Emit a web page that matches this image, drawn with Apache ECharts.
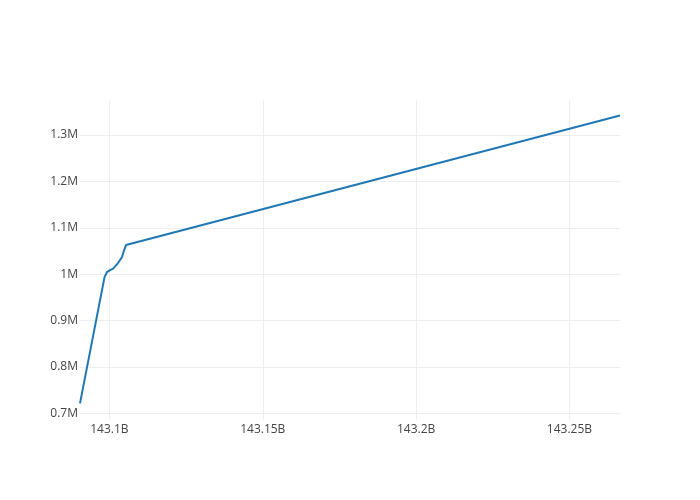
<!DOCTYPE html>
<html>
<head>
<meta charset="utf-8">
<script src="https://cdn.jsdelivr.net/npm/echarts@6/dist/echarts.min.js"></script>
<style>
html,body{margin:0;padding:0;background:#fff;}
#chart{width:700px;height:500px;}
</style>
</head>
<body>
<div id="chart"></div>
<script>
// Data
var xValues = [143.0904e9, 143.0984e9, 143.0992e9, 143.1002e9, 143.1012e9, 143.1028e9, 143.1041e9, 143.1048e9, 143.1054e9, 143.2665e9];
var yValues = [721600, 993800, 1004600, 1008900, 1012100, 1024000, 1036900, 1052000, 1062800, 1341900];

var xRange = [143.0904e9, 143.2665e9];
var yRange = [685700, 1375500];

var points = xValues.map(function (x, i) { return [x, yValues[i]]; });

var chart = echarts.init(document.getElementById('chart'), null, {renderer: 'canvas'});
var font = '"Open Sans", "Noto Sans", sans-serif';
chart.setOption({
  animation: false,
  backgroundColor: '#fff',
  grid: {left: 80, right: 80, top: 100, bottom: 80},
  xAxis: {
    type: 'value',
    min: xRange[0],
    max: xRange[1],
    splitNumber: 4,
    axisLine: {show: false},
    axisTick: {show: false},
    axisLabel: {
      showMinLabel: false, showMaxLabel: false,
      margin: 4,
      color: '#444', fontSize: 12, fontFamily: font,
      formatter: function (v) { return parseFloat((v / 1e9).toFixed(3)) + 'B'; }
    },
    splitLine: {show: true, showMinLine: false, showMaxLine: false, lineStyle: {color: '#eeeeee', width: 1}}
  },
  yAxis: {
    type: 'value',
    min: yRange[0],
    max: yRange[1],
    splitNumber: 7,
    axisLine: {show: false},
    axisTick: {show: false},
    axisLabel: {
      showMinLabel: false, showMaxLabel: false,
      margin: 2,
      color: '#444', fontSize: 12, fontFamily: font,
      formatter: function (v) { return parseFloat((v / 1e6).toFixed(3)) + 'M'; }
    },
    splitLine: {show: true, showMinLine: false, showMaxLine: false, lineStyle: {color: '#eeeeee', width: 1}}
  },
  series: [{
    type: 'line',
    data: points,
    showSymbol: false,
    lineStyle: {color: '#1f77b4', width: 2},
    itemStyle: {color: '#1f77b4'}
  }]
});
</script>
</body>
</html>
